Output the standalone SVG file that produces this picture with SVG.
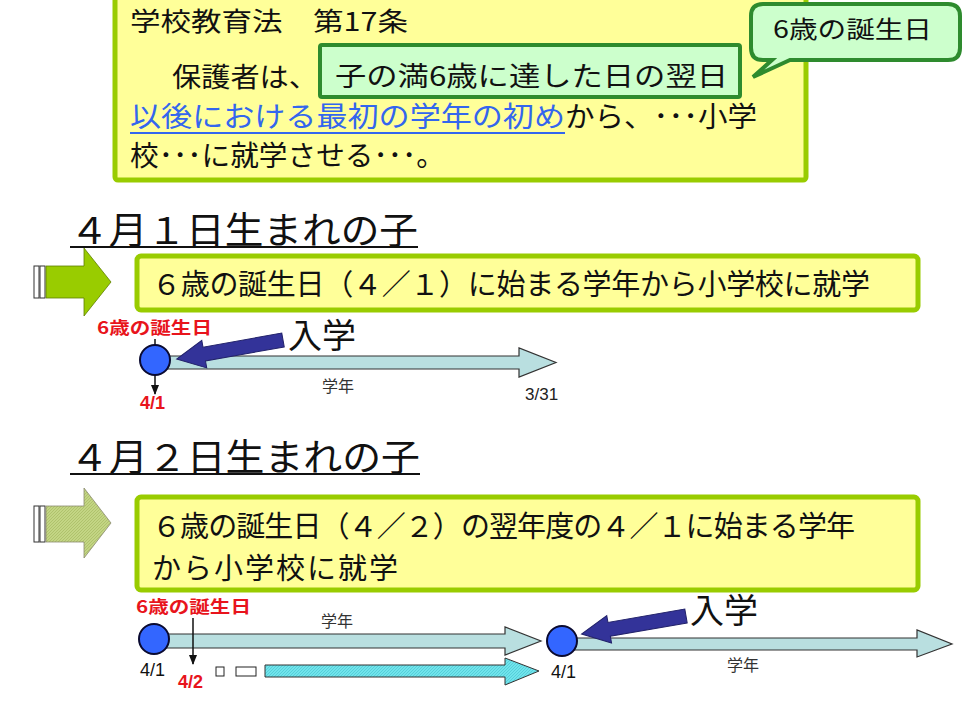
<svg xmlns="http://www.w3.org/2000/svg" width="964" height="711" viewBox="0 0 964 711">
<defs>
<style>
.jp{font-family:"Noto Sans CJK JP","Noto Sans CJK SC",sans-serif;fill:#111;}
.lat{font-family:"Liberation Sans",Arial,sans-serif;fill:#111;}
.red{fill:#E8141C;font-weight:bold;}
.ybox{fill:#FFFF99;stroke:#99CC00;stroke-width:5;}
.gbox{fill:#CCFFCC;stroke:#2E8B2E;stroke-width:4;}
.bar{fill:#B9DFE0;stroke:#333;stroke-width:1.2;}
.dot{fill:#3366FF;stroke:#0A0A30;stroke-width:2;}
.ptr{fill:#333399;stroke:#22226A;stroke-width:1;}
.stripe{fill:#fff;stroke:#333;stroke-width:1;}
.ul{stroke:#111;stroke-width:2;}
.tick{stroke:#111;stroke-width:1.5;}
</style>
<pattern id="hatchG" width="3" height="3" patternUnits="userSpaceOnUse">
<rect width="3" height="3" fill="#C3D584"/>
<path d="M0,3 L3,0" stroke="#A9BE66" stroke-width="0.8"/>
</pattern>
<pattern id="hatchC" width="3" height="3" patternUnits="userSpaceOnUse">
<rect width="3" height="3" fill="#70E4EC"/>
<path d="M0,3 L3,0" stroke="#4FCAD4" stroke-width="0.8"/>
</pattern>
<marker id="dn" markerWidth="10" markerHeight="8" refX="9" refY="4" orient="auto" markerUnits="userSpaceOnUse" viewBox="0 0 10 8">
<path d="M0,0 L10,4 L0,8 Z" fill="#111"/>
</marker>
</defs>
<rect width="964" height="711" fill="#fff"/>

<g id="law-box">
<rect class="ybox" x="115" y="-10" width="691" height="190" rx="3"/>
<text class="jp" x="130" y="31" font-size="26" textLength="278" lengthAdjust="spacingAndGlyphs">学校教育法　第17条</text>
<text class="jp" x="172" y="87" font-size="27" textLength="146" lengthAdjust="spacingAndGlyphs">保護者は、</text>
<text class="jp" x="130" y="127" font-size="28" textLength="435" lengthAdjust="spacingAndGlyphs" style="fill:#3366EE">以後における最初の学年の初め</text>
<line x1="130" y1="133" x2="565" y2="133" stroke="#3366EE" stroke-width="2"/>
<text class="jp" x="565" y="127" font-size="28" textLength="192" lengthAdjust="spacingAndGlyphs">から、･･･小学</text>
<text class="jp" x="130" y="166" font-size="28" textLength="315" lengthAdjust="spacingAndGlyphs">校･･･に就学させる･･･。</text>
</g>

<g id="highlight-box">
<rect class="gbox" x="320" y="45" width="420" height="52" rx="2"/>
<text class="jp" x="335" y="86" font-size="27" textLength="393" lengthAdjust="spacingAndGlyphs">子の満6歳に達した日の翌日</text>
</g>

<g id="callout">
<path class="gbox" d="M763,4 H948 Q960,4 960,16 V48 Q960,60 948,60 H790 L753,77 L772,60 H763 Q751,60 751,48 V16 Q751,4 763,4 Z"/>
<text class="jp" x="773" y="38" font-size="24" textLength="159" lengthAdjust="spacingAndGlyphs">6歳の誕生日</text>
</g>

<g id="heading1">
<text class="jp" x="70" y="244" font-size="37" textLength="348" lengthAdjust="spacingAndGlyphs">４月１日生まれの子</text>
<line class="ul" x1="70" y1="247" x2="418" y2="247"/>
</g>

<g id="bigarrow1">
<rect class="stripe" x="34" y="266" width="5" height="32"/>
<rect class="stripe" x="40" y="266" width="5" height="32"/>
<polygon points="46,266 84,266 84,248 111,282 84,316 84,298 46,298" fill="#99CC00" stroke="#5E7F00" stroke-width="0.8"/>
</g>

<g id="box1">
<rect class="ybox" x="137" y="256" width="781" height="54" rx="4"/>
<text class="jp" x="152" y="295" font-size="29" textLength="718" lengthAdjust="spacing">６歳の誕生日（４／１）に始まる学年から小学校に就学</text>
</g>

<g id="heading2">
<text class="jp" x="70" y="471" font-size="37" textLength="350" lengthAdjust="spacingAndGlyphs">４月２日生まれの子</text>
<line class="ul" x1="70" y1="474" x2="420" y2="474"/>
</g>

<g id="bigarrow2">
<rect class="stripe" x="34" y="506" width="5" height="36"/>
<rect class="stripe" x="40" y="506" width="5" height="36"/>
<polygon points="46,506 84,506 84,488 111,523 84,558 84,542 46,542" fill="url(#hatchG)" stroke="#8A8A70" stroke-width="0.8"/>
</g>

<g id="box2">
<rect class="ybox" x="137" y="497" width="781" height="93" rx="4"/>
<text class="jp" x="152" y="537" font-size="29" textLength="703" lengthAdjust="spacing">６歳の誕生日（４／２）の翌年度の４／１に始まる学年</text>
<text class="jp" x="152" y="579" font-size="29" textLength="246" lengthAdjust="spacing">から小学校に就学</text>
</g>

<g id="connectors">
<polygon class="bar" points="160,356 519,356 519,348 556,362.5 519,377 519,369 160,369"/>
<line class="tick" x1="155" y1="339" x2="155" y2="394" marker-end="url(#dn)"/>
<polygon class="ptr" transform="translate(283,340) rotate(169.84)" points="0,-7 80,-7 80,-14 108,0 80,14 80,7 0,7"/>

<polygon class="bar" points="160,634 505,634 505,627 541,641 505,655 505,648 160,648"/>
<line class="tick" x1="193" y1="618" x2="193" y2="664" marker-end="url(#dn)"/>
<polygon points="265,665 505,665 505,658 539,671 505,685 505,677 265,677" fill="url(#hatchC)" stroke="#333" stroke-width="1"/>
<polygon class="bar" points="570,638 917,638 917,630 952,644 917,657 917,650 570,650"/>
<polygon class="ptr" transform="translate(686,616) rotate(170.18)" points="0,-7 78,-7 78,-14 106,0 78,14 78,7 0,7"/>
</g>

<g id="timeline1">
<circle class="dot" cx="155" cy="360" r="15"/>
<text class="jp red" x="97" y="334" font-size="17" textLength="115" lengthAdjust="spacingAndGlyphs">6歳の誕生日</text>
<text class="lat red" x="140" y="409" font-size="18">4/1</text>
<text class="jp" x="288" y="348" font-size="34">入学</text>
<text class="jp" x="322" y="392" font-size="16" style="fill:#333">学年</text>
<text class="lat" x="525" y="400" font-size="17" style="fill:#222">3/31</text>
</g>

<g id="timeline2">
<circle class="dot" cx="154" cy="639" r="15"/>
<text class="jp red" x="136" y="613" font-size="17" textLength="115" lengthAdjust="spacingAndGlyphs">6歳の誕生日</text>
<text class="jp" x="321" y="627" font-size="16" style="fill:#333">学年</text>
<text class="lat" x="140" y="676" font-size="18">4/1</text>
<text class="lat red" x="178" y="688" font-size="18">4/2</text>
<rect x="216" y="667" width="8" height="9" fill="#fff" stroke="#222" stroke-width="1"/>
<rect x="236" y="667" width="20" height="9" fill="#fff" stroke="#222" stroke-width="1"/>
<circle class="dot" cx="562" cy="641" r="15"/>
<text class="lat" x="551" y="678" font-size="18">4/1</text>
<text class="jp" x="690" y="623" font-size="34">入学</text>
<text class="jp" x="727" y="671" font-size="16" style="fill:#333">学年</text>
</g>
</svg>
